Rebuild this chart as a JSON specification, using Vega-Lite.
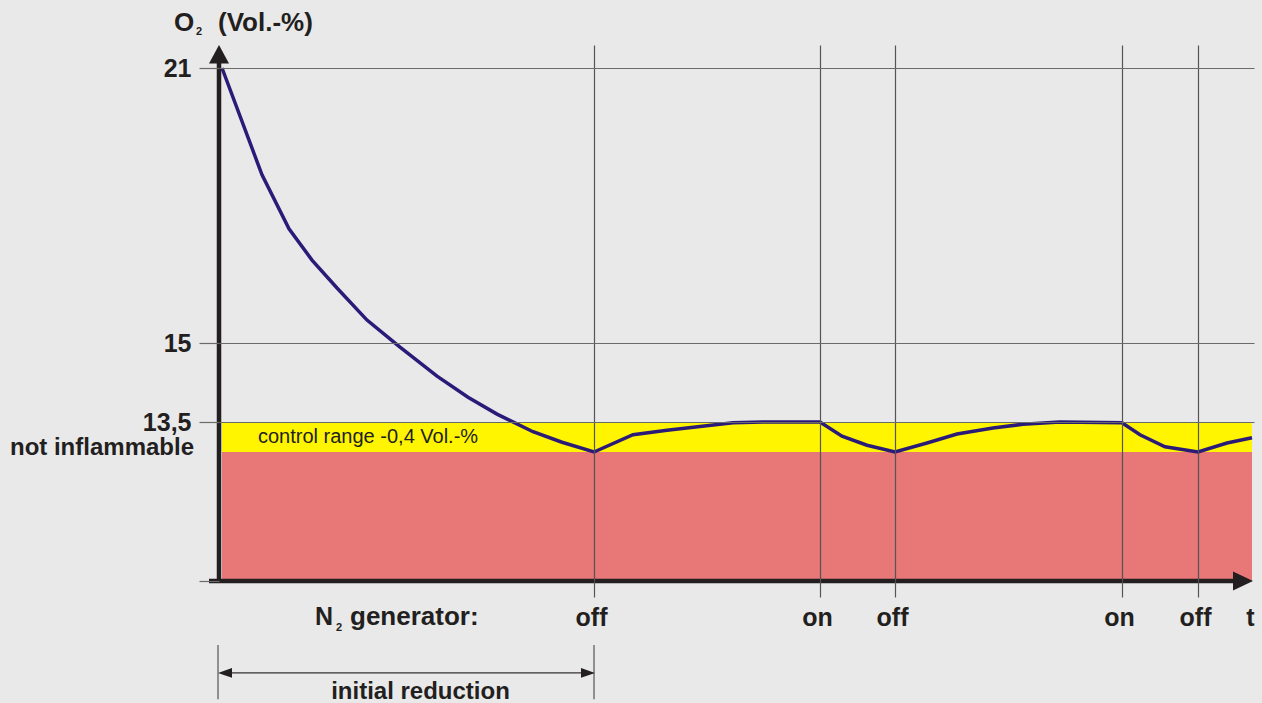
{
  "$schema": "https://vega.github.io/schema/vega-lite/v6.json",
  "width": 1035,
  "height": 536,
  "autosize": "none",
  "padding": {"left": 219, "top": 45, "right": 8, "bottom": 122},
  "background": "#e9e9e9",
  "config": {"view": {"stroke": null}, "font": "Liberation Sans"},
  "datasets": {
    "curve": [
      {"t": 0.3, "o2": 21.0},
      {"t": 4.3, "o2": 18.67},
      {"t": 7.0, "o2": 17.49},
      {"t": 9.3, "o2": 16.81},
      {"t": 11.8, "o2": 16.2},
      {"t": 14.8, "o2": 15.5},
      {"t": 18.1, "o2": 14.92},
      {"t": 21.8, "o2": 14.37},
      {"t": 24.9, "o2": 13.97},
      {"t": 27.8, "o2": 13.65},
      {"t": 31.4, "o2": 13.37},
      {"t": 34.3, "o2": 13.23},
      {"t": 37.5, "o2": 13.1},
      {"t": 41.4, "o2": 13.33},
      {"t": 44.8, "o2": 13.39},
      {"t": 51.4, "o2": 13.49},
      {"t": 54.4, "o2": 13.5},
      {"t": 60.1, "o2": 13.5},
      {"t": 62.3, "o2": 13.31},
      {"t": 64.8, "o2": 13.19},
      {"t": 67.6, "o2": 13.1},
      {"t": 70.8, "o2": 13.22},
      {"t": 73.8, "o2": 13.34},
      {"t": 77.4, "o2": 13.42},
      {"t": 80.4, "o2": 13.47},
      {"t": 84.1, "o2": 13.5},
      {"t": 90.3, "o2": 13.49},
      {"t": 92.1, "o2": 13.33},
      {"t": 94.6, "o2": 13.17},
      {"t": 97.9, "o2": 13.1},
      {"t": 100.8, "o2": 13.22},
      {"t": 103.3, "o2": 13.29}
    ],
    "zones": [
      {"zone": "not inflammable", "t0": 0.3, "t1": 103.3, "lo": 0, "hi": 13.1},
      {"zone": "control range", "t0": 0.3, "t1": 103.3, "lo": 13.1, "hi": 13.5}
    ]
  },
  "layer": [
    {
      "data": {"name": "zones"},
      "mark": {"type": "rect"},
      "encoding": {
        "x": {
          "field": "t0", "type": "quantitative",
          "scale": {"domain": [0, 103.5], "nice": false, "zero": false},
          "axis": {
            "title": null, "domain": false,
            "values": [37.5, 60.1, 67.6, 90.3, 97.9, 103.4],
            "labelExpr": "datum.value > 100 ? 't' : (datum.value == 60.1 || datum.value == 90.3) ? 'on' : 'off'",
            "grid": true, "gridColor": "#555555", "gridWidth": 1.2,
            "gridOpacity": {"condition": {"test": "datum.value > 100", "value": 0}, "value": 1},
            "ticks": true, "tickSize": 16, "tickColor": "#555555", "tickWidth": 1.2,
            "tickOpacity": {"condition": {"test": "datum.value > 100", "value": 0}, "value": 1},
            "labelFont": "Liberation Sans", "labelFontSize": 25, "labelFontWeight": "bold",
            "labelColor": "#231f20", "labelPadding": 8, "labelFlush": false,
            "labelOverlap": false, "labelBound": false, "labelOffset": -3, "zindex": 1
          }
        },
        "x2": {"field": "t1"},
        "y": {
          "field": "lo", "type": "quantitative",
          "scale": {"domain": [0, 13.1, 13.5, 15, 21, 21.5], "range": [536, 407, 377, 298, 23, 0], "nice": false, "zero": false},
          "axis": {
            "title": null, "domain": false,
            "values": [0, 13.5, 15, 21],
            "labelExpr": "datum.value == 0 ? '' : datum.value == 13.5 ? '13,5' : datum.label",
            "grid": true, "gridColor": "#6a6a6a", "gridWidth": 1.2,
            "gridOpacity": {"condition": {"test": "datum.value == 0", "value": 0}, "value": 1},
            "ticks": true, "tickSize": 20, "tickColor": "#6a6a6a", "tickWidth": 1.2,
            "labelFont": "Liberation Sans", "labelFontSize": 25, "labelFontWeight": "bold",
            "labelColor": "#231f20", "labelPadding": 8, "labelOverlap": false, "labelBound": false, "zindex": 1
          }
        },
        "y2": {"field": "hi"},
        "color": {
          "field": "zone", "type": "nominal",
          "scale": {"domain": ["not inflammable", "control range"], "range": ["#e87777", "#fff500"]},
          "legend": null
        }
      }
    },
    {
      "data": {"name": "curve"},
      "mark": {"type": "line", "color": "#2a1b78", "strokeWidth": 3.5},
      "encoding": {
        "x": {"field": "t", "type": "quantitative", "title": null},
        "y": {"field": "o2", "type": "quantitative", "title": null}
      }
    },
    {
      "data": {"values": [{}]},
      "mark": {"type": "rule", "color": "#231f20", "strokeWidth": 4.5},
      "encoding": {"x": {"datum": 0}, "y": {"datum": 0}, "y2": {"datum": 21.3}}
    },
    {
      "data": {"values": [{}]},
      "mark": {"type": "rule", "color": "#231f20", "strokeWidth": 4.5},
      "encoding": {"x": {"datum": -1.0}, "x2": {"datum": 102.4}, "y": {"datum": 0}}
    },
    {
      "data": {"values": [{}]},
      "mark": {"type": "point", "shape": "M0,-1L-1,0.85L1,0.85Z", "size": 400, "filled": true, "opacity": 1, "color": "#231f20"},
      "encoding": {"x": {"datum": 0}, "y": {"datum": 21.28}}
    },
    {
      "data": {"values": [{}]},
      "mark": {"type": "point", "shape": "M1,0L-1,-0.95L-1,0.95Z", "size": 400, "filled": true, "opacity": 1, "color": "#231f20"},
      "encoding": {"x": {"datum": 102.4}, "y": {"datum": 0}}
    },
    {
      "data": {"values": [{}]},
      "mark": {"type": "rule", "color": "#555555", "strokeWidth": 1.2},
      "encoding": {"x": {"datum": -0.1}, "y": {"datum": -6.5}, "y2": {"datum": -12.0}}
    },
    {
      "data": {"values": [{}]},
      "mark": {"type": "rule", "color": "#555555", "strokeWidth": 1.2},
      "encoding": {"x": {"datum": 37.5}, "y": {"datum": -6.5}, "y2": {"datum": -12.0}}
    },
    {
      "data": {"values": [{}]},
      "mark": {"type": "rule", "color": "#333333", "strokeWidth": 1.2},
      "encoding": {"x": {"datum": 0.6}, "x2": {"datum": 36.9}, "y": {"datum": -9.34}}
    },
    {
      "data": {"values": [{}]},
      "mark": {"type": "point", "shape": "M-1,0L1,-0.7L1,0.7Z", "size": 196, "filled": true, "opacity": 1, "color": "#231f20"},
      "encoding": {"x": {"datum": 0.6}, "y": {"datum": -9.34}}
    },
    {
      "data": {"values": [{}]},
      "mark": {"type": "point", "shape": "M1,0L-1,-0.7L-1,0.7Z", "size": 196, "filled": true, "opacity": 1, "color": "#231f20"},
      "encoding": {"x": {"datum": 36.9}, "y": {"datum": -9.34}}
    },
    {
      "data": {"values": [{}]},
      "mark": {"type": "text", "text": "O", "font": "Liberation Sans", "fontSize": 26, "fontWeight": "bold", "color": "#231f20", "align": "center", "baseline": "middle"},
      "encoding": {"x": {"datum": -3.5}, "y": {"datum": 21.98}}
    },
    {
      "data": {"values": [{}]},
      "mark": {"type": "text", "text": "2", "font": "Liberation Sans", "fontSize": 11, "fontWeight": "bold", "color": "#231f20", "align": "center", "baseline": "middle"},
      "encoding": {"x": {"datum": -2.0}, "y": {"datum": 21.78}}
    },
    {
      "data": {"values": [{}]},
      "mark": {"type": "text", "text": "(Vol.-%)", "font": "Liberation Sans", "fontSize": 26, "fontWeight": "bold", "color": "#231f20", "align": "left", "baseline": "middle"},
      "encoding": {"x": {"datum": -0.1}, "y": {"datum": 21.98}}
    },
    {
      "data": {"values": [{}]},
      "mark": {"type": "text", "text": "not inflammable", "font": "Liberation Sans", "fontSize": 24, "fontWeight": "bold", "color": "#231f20", "align": "right", "baseline": "middle"},
      "encoding": {"x": {"datum": -2.5}, "y": {"datum": 13.15}}
    },
    {
      "data": {"values": [{}]},
      "mark": {"type": "text", "text": "control range -0,4 Vol.-%", "font": "Liberation Sans", "fontSize": 20, "fontWeight": "normal", "color": "#231f20", "align": "left", "baseline": "middle"},
      "encoding": {"x": {"datum": 3.9}, "y": {"datum": 13.3}}
    },
    {
      "data": {"values": [{}]},
      "mark": {"type": "text", "text": "N", "font": "Liberation Sans", "fontSize": 25, "fontWeight": "bold", "color": "#231f20", "align": "left", "baseline": "middle"},
      "encoding": {"x": {"datum": 9.6}, "y": {"datum": -3.66}}
    },
    {
      "data": {"values": [{}]},
      "mark": {"type": "text", "text": "2", "font": "Liberation Sans", "fontSize": 11, "fontWeight": "bold", "color": "#231f20", "align": "center", "baseline": "middle"},
      "encoding": {"x": {"datum": 12.0}, "y": {"datum": -4.77}}
    },
    {
      "data": {"values": [{}]},
      "mark": {"type": "text", "text": "generator:", "font": "Liberation Sans", "fontSize": 26, "fontWeight": "bold", "color": "#231f20", "align": "left", "baseline": "middle"},
      "encoding": {"x": {"datum": 13.1}, "y": {"datum": -3.66}}
    },
    {
      "data": {"values": [{}]},
      "mark": {"type": "text", "text": "initial reduction", "font": "Liberation Sans", "fontSize": 24, "fontWeight": "bold", "color": "#231f20", "align": "center", "baseline": "alphabetic"},
      "encoding": {"x": {"datum": 20.15}, "y": {"datum": -11.98}}
    }
  ]
}
